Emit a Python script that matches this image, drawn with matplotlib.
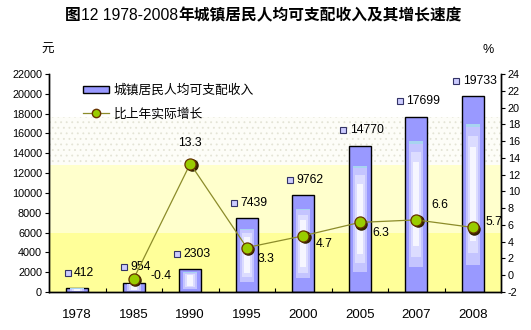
import matplotlib
matplotlib.use("Agg")
import matplotlib.pyplot as plt
from matplotlib.transforms import offset_copy
from matplotlib.patches import Rectangle
from matplotlib.lines import Line2D

plt.rcParams['font.family'] = ['Liberation Sans', 'Noto Sans CJK SC']
plt.rcParams['hatch.linewidth'] = 0.6

# data
years = ['1978', '1985', '1990', '1995', '2000', '2005', '2007', '2008']
income = [412, 954, 2303, 7439, 9762, 14770, 17699, 19733]
growth = [None, -0.4, 13.3, 3.3, 4.7, 6.3, 6.6, 5.7]
growth_years = years[1:]
growth_vals = growth[1:]

income_ticks = list(range(0, 22001, 2000))
growth_ticks = list(range(-2, 25, 2))

title_parts = ['图', '12 1978-2008', '年城镇居民人均可支配收入及其增长速度']
income_label = '城镇居民人均可支配收入'
growth_label = '比上年实际增长'

# layout
fig = plt.figure(figsize=(5.31, 3.30), dpi=100)
L, R, B, T = 49 / 531, 501 / 531, 38 / 330, 256 / 330
ax = fig.add_axes([L, B, R - L, T - B])
ax2 = ax.twinx()

x = list(range(len(years)))
ax.set_xlim(-0.5, len(years) - 0.5)
ax.set_ylim(0, 22000)
ax2.set_ylim(-2, 24)

# background bands
ax.axhspan(17700, 22000, facecolor='white', lw=0, zorder=0)
ax.axhspan(12800, 17700, facecolor='#FDFDF8', edgecolor='#E4E4D6', hatch='...', lw=0, zorder=0)
ax.axhspan(6000, 12800, facecolor='#FFFFCC', lw=0, zorder=0)
ax.axhspan(0, 6000, facecolor='#FFFF99', lw=0, zorder=0)

# bars with a concentric lighter fill
bw = 0.39
ax.bar(x, income, width=bw, color='#9999FF', edgecolor='black', lw=1.0, zorder=2)
layers = [(0.14, 0.18, '#C4C4FF'), (0.20, 0.27, '#DCDCFF'), (0.26, 0.36, '#F6F6FF')]
for vin, hin, col in layers:
    bottoms = [v * vin for v in income]
    heights = [v * (1 - 2 * vin) for v in income]
    ax.bar(x, heights, bottom=bottoms, width=bw * (1 - 2 * hin), color=col, lw=0, zorder=3)
# light cyan rim on the inner block
ax.bar(x, [v * 0.015 for v in income], bottom=[v * (1 - 0.14 - 0.015) for v in income],
       width=bw * (1 - 2 * 0.18), color='#A8D4F0', lw=0, zorder=3)

# bar value labels with small square keys
for i, v in enumerate(income):
    s = str(v)
    total = 10 + 6.8 * len(s)
    left = -total / 2 + 2
    ax.annotate(s, (i, v), xytext=((left + 10) * 0.72, 11), textcoords='offset points',
                ha='left', va='center', fontsize=8.8, color='black', zorder=6)
    tr = offset_copy(ax.transData, fig, x=(left + 3.5) * 0.72, y=11, units='points')
    ax.plot([i], [v], marker='s', ms=5, mfc='#CCCCFF', mec='#333366', mew=0.8,
            transform=tr, zorder=6, clip_on=False)

# growth line with shadowed markers
gx = [years.index(y) for y in growth_years]
shadow = offset_copy(ax2.transData, fig, x=1.6, y=-1.6, units='dots')
ax2.plot(gx, growth_vals, ls='none', marker='o', ms=8, mfc='#332200', mec='#332200',
         transform=shadow, zorder=4)
ax2.plot(gx, growth_vals, color='#8C8C2A', lw=0.9, marker='o', ms=8,
         mfc='#99CC00', mec='#663300', mew=0.9, zorder=5)

offsets = {'1985': (12, 2, 'left'), '1990': (0, 15, 'center'), '1995': (8, -8, 'left'),
           '2000': (9, -6, 'left'), '2005': (9, -7.5, 'left'), '2007': (11, 11, 'left'),
           '2008': (9, 4, 'left')}
for yx, gv in zip(growth_years, growth_vals):
    dx, dy, ha = offsets[yx]
    ax2.annotate(f'{gv}', (years.index(yx), gv), xytext=(dx, dy), textcoords='offset points',
                 ha=ha, va='center', fontsize=8.8, zorder=6)

# axes styling
for a in (ax, ax2):
    a.spines['top'].set_visible(False)
    for s in ('left', 'right', 'bottom'):
        a.spines[s].set_linewidth(1.0)
        a.spines[s].set_color('black')

ax.set_yticks(income_ticks)
ax.set_yticklabels([str(t) for t in income_ticks], fontsize=7.8)
ax.tick_params(axis='y', direction='out', length=3, width=0.8, pad=2)
ax2.set_yticks(growth_ticks)
ax2.set_yticklabels([str(t) for t in growth_ticks], fontsize=7.8)
ax2.tick_params(axis='y', direction='out', length=3, width=0.8, pad=2)

ax.set_xticks(x)
ax.set_xticklabels(years, fontsize=9.5)
ax.tick_params(axis='x', which='major', length=0, pad=12)
ax.set_xticks([i + 0.5 for i in x[:-1]], minor=True)
ax.tick_params(axis='x', which='minor', direction='in', length=3, width=0.8)

# axis unit labels
fig.text(48 / 531, 1 - 50 / 330, '元', fontsize=9, ha='center', va='center')
fig.text(488 / 531, 1 - 50 / 330, '%', fontsize=9, ha='center', va='center')

# legend
handles = [Rectangle((0, 0), 1, 1, facecolor='#9999FF', edgecolor='black', lw=1.0),
           Line2D([], [], color='#8C8C2A', lw=0.9, marker='o', ms=6,
                  mfc='#99CC00', mec='#663300')]
leg = ax2.legend(handles, [income_label, growth_label], loc='upper left',
                 bbox_to_anchor=(0.063, 0.975), frameon=False, fontsize=9.2,
                 handlelength=2.1, handleheight=0.45, handletextpad=0.35,
                 labelspacing=0.85, borderaxespad=0)
leg.set_zorder(7)

# title with mixed weights
fig.canvas.draw()
rend = fig.canvas.get_renderer()
weights = ['bold', 'normal', 'bold']
texts = []
for part, w in zip(title_parts, weights):
    t = fig.text(0, 1 - 15 / 330, part, fontsize=11.3, fontweight=w, ha='left', va='center',
                 family=['Noto Sans CJK SC'] if w == 'bold' else ['Liberation Sans'])
    texts.append(t)
widths = [t.get_window_extent(rend).width for t in texts]
start = (527 - sum(widths)) / 2
for t, wd in zip(texts, widths):
    t.set_x(start / 531)
    start += wd

fig.savefig('out.png', dpi=100)
